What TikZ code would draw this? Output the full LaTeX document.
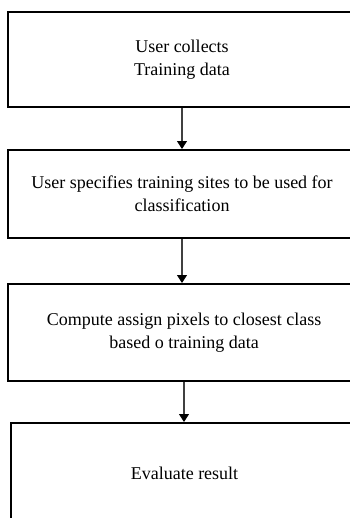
\documentclass[tikz,border=0pt]{standalone}
\usepackage{fontspec}
\setmainfont{Liberation Serif}
\usetikzlibrary{arrows.meta}
\tikzset{
  stepbox/.style={draw,line width=1.5pt,rectangle,align=center,
    font=\fontsize{13.5}{17.25}\selectfont,minimum width=261pt},
  flowarrow/.style={line width=0.8pt,black!75,
    -{Triangle[width=7.5pt,length=6pt,black]}}
}
\begin{document}
\begin{tikzpicture}[x=0.75pt, y=-0.75pt]
\useasboundingbox (0,0) rectangle (350,518);
\clip (0,0) rectangle (350,518);
\node[stepbox,minimum height=71.25pt] (collect) at (182,59.5)
  {User collects\\Training data};
\node[stepbox,minimum height=66pt] (sites) at (182,194)
  {User specifies training sites to be used for\\classification};
\node[stepbox,minimum height=72.75pt,minimum width=264pt] (assign) at (184,332.5)
  {Compute assign pixels to closest class\\based o training data};
\node[stepbox,minimum height=75pt,minimum width=260.25pt] (evaluate) at (184.5,473)
  {Evaluate result};

\draw[flowarrow] (collect.south) -- (collect.south |- sites.north);
\draw[flowarrow] (sites.south) -- (sites.south |- assign.north);
\draw[flowarrow] (assign.south) -- (assign.south |- evaluate.north);
\end{tikzpicture}
\end{document}
